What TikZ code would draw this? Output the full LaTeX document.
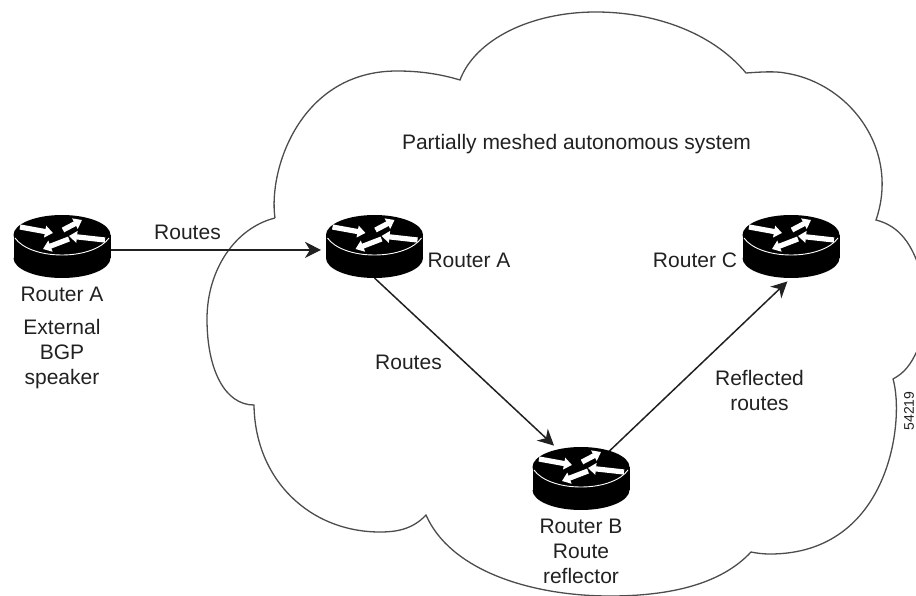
\documentclass[tikz,border=0pt]{standalone}
\usepackage{fontspec}
\setmainfont{Liberation Sans}
\usetikzlibrary{arrows.meta}
\definecolor{inkc}{gray}{0.13}
\definecolor{cloudc}{gray}{0.3}
\tikzset{
  routerbox/.style={minimum width=97pt,minimum height=63pt,inner sep=0pt,outer sep=0pt},
  lbl/.style={font=\fontsize{21}{25}\selectfont,text=inkc,inner sep=0pt,align=center},
  link/.style={draw=inkc,line width=1.5pt,-{Stealth[length=16pt,width=16pt,inset=5pt]}},
  facearrow/.style={draw=white,line width=5.2pt,-{Triangle[length=8pt,width=11.5pt]}},
  cloudline/.style={draw=cloudc,line width=1.3pt}
}
\newcommand{\routericon}[2]{%
  \begin{scope}[shift={(#1,#2)}]
    \fill[black] (-48.5,0) rectangle (48.5,23);
    \fill[black] (-48.5,23) .. controls (-48.5,34) and (-27,43) .. (0,43) .. controls (27,43) and (48.5,34) .. (48.5,23) -- cycle;
    \fill[black] (0,0) ellipse[x radius=48.5,y radius=20];
    \draw[white,line width=0.9pt] (-47,3) .. controls (-40,13) and (-22,20) .. (0,20) .. controls (22,20) and (40,13) .. (47,3);
    \draw[facearrow] (-42,-8) -- (-9,-2);
    \draw[facearrow] (1,-5) -- (20,-15);
    \draw[facearrow] (43,5) -- (7,1);
    \draw[facearrow] (7,4) -- (-19,14);
  \end{scope}}
\begin{document}
\begin{tikzpicture}[x=1pt,y=-1pt]
\useasboundingbox (0,0) rectangle (916,596);
\begin{scope}
\clip (0,0) rectangle (916,596);
\draw[cloudline] (275,218)
  .. controls (268,170) and (300,71) .. (397,71)
  .. controls (420,71) and (440,74) .. (460,80)
  .. controls (475,40) and (530,12) .. (596,12)
  .. controls (650,12) and (710,30) .. (746,73)
  .. controls (760,72) and (775,71) .. (785,73)
  .. controls (850,83) and (900,150) .. (876,220)
  .. controls (900,226) and (912,245) .. (920,270)
  .. controls (935,300) and (930,335) .. (916,353)
  .. controls (908,370) and (900,375) .. (893,379)
  .. controls (905,420) and (890,554) .. (770,554)
  .. controls (762,554) and (756,553) .. (751,552)
  .. controls (725,580) and (680,596) .. (610,596)
  .. controls (530,596) and (450,570) .. (426,515)
  .. controls (412,530) and (395,532) .. (380,532)
  .. controls (310,532) and (255,480) .. (254,405)
  .. controls (225,405) and (207,370) .. (207,319)
  .. controls (207,270) and (235,228) .. (275,218);
\end{scope}
\node[routerbox] (ext) at (62,246.5) {};
\node[routerbox] (ra) at (374.5,246.5) {};
\node[routerbox] (rc) at (791,246.5) {};
\node[routerbox] (rb) at (581,478.5) {};
\draw[link,shorten >=5pt] (ext.-4) -- (ra.184);
\draw[link,shorten >=2pt] (ra.south) -- (rb.129);
\draw[link,shorten >=5pt,shorten <=-8pt] (rb.44) -- (rc.south);
\routericon{62}{235}
\routericon{374.5}{235}
\routericon{791}{235}
\routericon{581}{467}
\node[lbl] (t1) at (576.5,144) {Partially meshed autonomous system};
\node[lbl] (t2) at (187.5,232) {Routes};
\node[lbl] (t3) at (62,294) {Router A};
\node[lbl] (t4) at (62,354) {External\\BGP\\speaker};
\node[lbl] (t5) at (469,260) {Router A};
\node[lbl] (t6) at (695,260) {Router C};
\node[lbl] (t7) at (408.5,362) {Routes};
\node[lbl] (t8) at (759.5,390.5) {Reflected\\routes};
\node[lbl] (t9) at (581,551) {Router B\\Route\\reflector};
\node[font=\fontsize{14}{14}\selectfont,text=inkc,inner sep=0pt,rotate=90] (t10) at (909,411) {54219};
\end{tikzpicture}
\end{document}
